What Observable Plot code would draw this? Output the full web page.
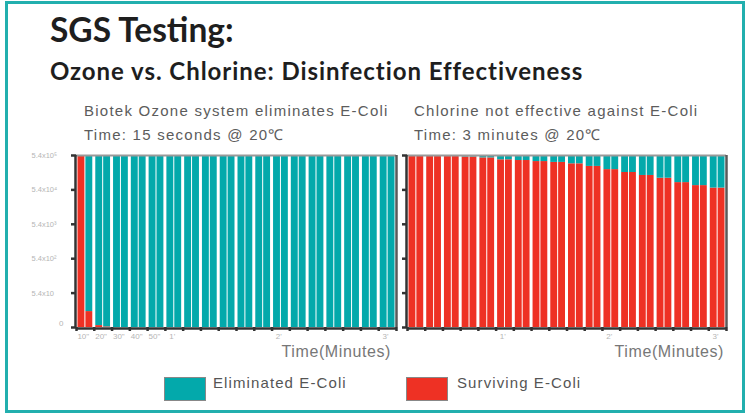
<!DOCTYPE html>
<html><head><meta charset="utf-8">
<script src="https://cdn.jsdelivr.net/npm/d3@7"></script>
<script src="https://cdn.jsdelivr.net/npm/@observablehq/plot@0.6"></script>
<style>
html,body{margin:0;padding:0;background:#fff;}
#root{position:relative;width:748px;height:416px;overflow:hidden;background:#fff;font-family:"Liberation Sans",Arial,sans-serif;}
#border{position:absolute;left:5px;top:1px;width:740px;height:412px;border:3px solid #22afae;box-sizing:border-box;}
.t{position:absolute;white-space:nowrap;line-height:1;}
.title{left:50px;top:13px;font-family:Lato,sans-serif;font-weight:700;font-size:33.5px;color:#1e1e1e;}
.subtitle{left:50px;top:59px;font-family:Lato,sans-serif;font-weight:700;font-size:24px;letter-spacing:0.95px;color:#1e1e1e;}
.head{font-size:15px;color:#5c5c5c;letter-spacing:1.25px;}
.axlab{font-size:16px;color:#777;letter-spacing:0.6px;top:344px;}
.panel{position:absolute;top:140px;}
.sw{position:absolute;top:377px;width:42px;height:24px;border:1px solid #888;box-sizing:border-box;}
.leg{font-size:15px;color:#555;letter-spacing:1.1px;top:375px;}
</style></head><body>
<div id="root">
  <div id="border"></div>
  <div class="t title">SGS Testing:</div>
  <div class="t subtitle">Ozone vs. Chlorine: Disinfection Effectiveness</div>
  <div class="t head" style="left:84px;top:103px;">Biotek Ozone system eliminates E-Coli</div>
  <div class="t head" style="left:84px;top:127px;">Time: 15 seconds @ 20℃</div>
  <div class="t head" style="left:414px;top:103px;">Chlorine not effective against E-Coli</div>
  <div class="t head" style="left:414px;top:127px;">Time: 3 minutes @ 20℃</div>
  <div class="panel" id="left" style="left:0px;"></div>
  <div class="panel" id="right" style="left:396px;"></div>
  <div class="t axlab" style="right:357px;">Time(Minutes)</div>
  <div class="t axlab" style="right:24px;">Time(Minutes)</div>
  <div id="legend"></div>
</div>
<script>
// ---- data ----
const times = [0,5,10,15,20,25,30,35,40,45,50,55,60,65,70,75,80,85,90,95,100,105,110,115,120,125,130,135,140,145,150,155,160,165,170,175];
const barSeconds = 5;
const total = 540000;
const ozoneSurviving = [540000,25,3,1,0,0,0,0,0,0,0,0,0,0,0,0,0,0,0,0,0,0,0,0,0,0,0,0,0,0,0,0,0,0,0,0];
const chlorineSurviving = [540000,540000,504000,504000,504000,504000,490000,490000,460000,460000,405000,405000,386000,386000,360000,360000,340000,340000,310000,310000,260000,260000,210000,210000,173000,173000,142000,142000,118000,118000,88000,88000,72000,72000,61000,61000];
const yLevelLabels = ["0","5.4x10","5.4x10²","5.4x10³","5.4x10⁴","5.4x10⁵"];
const yLevels = [0,1,2,3,4,5];
const xTickSeconds = [0,10,20,30,40,50,60,70,80,90,100,110,120,130,140,150,160,170,180];
const ozoneTickSeconds = [10,20,30,40,50,60,120,180];
const ozoneTickText = ['10"','20"','30"','40"','50"',"1'","2'","3'"];
const chlorineTickSeconds = [60,120,180];
const chlorineTickText = ["1'","2'","3'"];
const seriesNames = ["Eliminated E-Coli","Surviving E-Coli"];
const seriesColors = ["#03a9ab","#ee3124"];

// chart's y axis: 0 .. 5.4x10 linear, then one step per decade
function level(v){ return v <= 0 ? 0 : v < 54 ? v / 54 : Math.log10(v / 5.4); }

function panel(surviving, tickVals, tickText, withYLabels, marginLeft, width) {
  const rows = times.flatMap((t, i) => [
    {i, t0: t, t1: t + barSeconds, y1: 0, y2: level(surviving[i]), s: seriesNames[1]},
    {i, t0: t, t1: t + barSeconds, y1: level(surviving[i]), y2: level(total), s: seriesNames[0]}
  ]);
  const even = rows.filter(d => d.i % 2 === 0);
  const odd = rows.filter(d => d.i % 2 === 1);
  const marks = [
    Plot.rect(even, {x1: "t0", x2: "t1", y1: "y1", y2: "y2", fill: "s", insetLeft: 1.5, insetRight: 0.5}),
    Plot.rect(odd, {x1: "t0", x2: "t1", y1: "y1", y2: "y2", fill: "s", insetLeft: 0.5, insetRight: 1.5}),
    Plot.ruleY([level(total)], {stroke: "#9a9a9a", strokeWidth: 2}),
    Plot.ruleX([times[times.length - 1] + barSeconds], {stroke: "#5a5a5a", strokeWidth: 2.5}),
    Plot.ruleX([0], {stroke: "#333", strokeWidth: 2.5, dx: -1}),
    Plot.ruleY([0], {stroke: "#333", strokeWidth: 2.5, dy: 1}),
    Plot.axisY({ticks: yLevels, tickSize: 5, tickFormat: () => "", color: "#333", strokeWidth: 2.5}),
    Plot.axisX({ticks: xTickSeconds, tickSize: 4, tickFormat: () => "", color: "#333", strokeWidth: 2.5}),
    Plot.axisX({ticks: tickVals, tickFormat: d => tickText[tickVals.indexOf(d)], tickSize: 0, tickPadding: 6, dx: -11, fontSize: 8, color: "#b5b5b5"})
  ];
  if (withYLabels) {
    marks.push(Plot.axisY({ticks: yLevels.slice(1), tickFormat: d => yLevelLabels[d], tickSize: 0, tickPadding: 0, textAnchor: "start", dx: -45, fontSize: 7.5, color: "#b5b5b5"}));
    marks.push(Plot.axisY({ticks: [0], tickFormat: d => yLevelLabels[d], tickSize: 0, tickPadding: 13, dy: -4, fontSize: 8, color: "#b5b5b5"}));
  }
  return Plot.plot({
    width, height: 230,
    marginLeft, marginRight: 4, marginTop: 15, marginBottom: 43,
    x: {domain: [0, 180]},
    y: {domain: [0, 5]},
    color: {domain: seriesNames, range: seriesColors},
    style: {background: "transparent", overflow: "visible", fontFamily: "Liberation Sans, Arial, sans-serif"},
    marks
  });
}

document.getElementById("left").append(panel(ozoneSurviving, ozoneTickSeconds, ozoneTickText, true, 76, 400));
document.getElementById("right").append(panel(chlorineSurviving, chlorineTickSeconds, chlorineTickText, false, 11, 334));

// legend
const legend = document.getElementById("legend");
const legPos = [{sw: 164, tx: 213}, {sw: 406, tx: 457}];
seriesNames.forEach((name, k) => {
  const sw = document.createElement("div");
  sw.className = "sw"; sw.style.left = legPos[k].sw + "px"; sw.style.background = seriesColors[k];
  const tx = document.createElement("div");
  tx.className = "t leg"; tx.style.left = legPos[k].tx + "px"; tx.textContent = name;
  legend.append(sw, tx);
});
</script>
</body></html>
